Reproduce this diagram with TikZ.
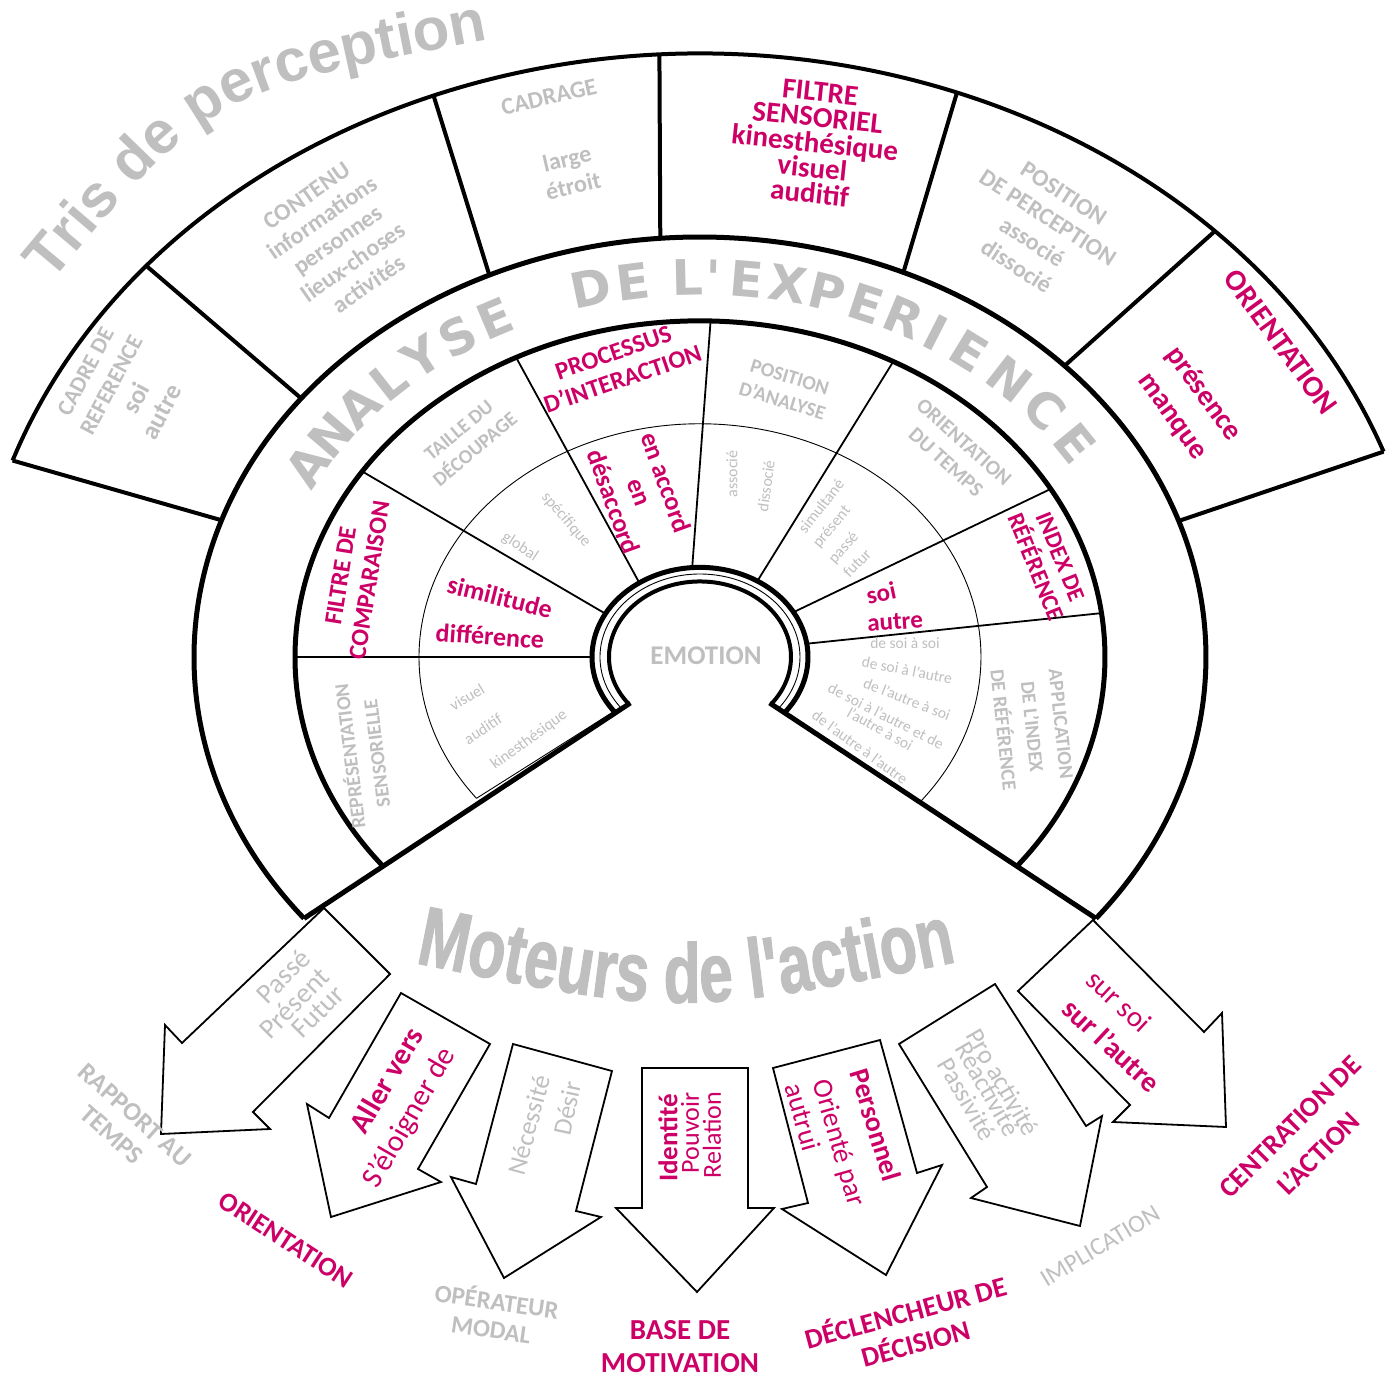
\documentclass[tikz,border=0pt]{standalone}
\usepackage{fontspec}
\setmainfont{Carlito}
\newfontfamily\trisfont{Liberation Sans}
\newfontfamily\ringfont{DejaVu Sans}
\newfontfamily\motfont{Liberation Sans}[FakeStretch=0.72, FakeBold=1.2]
\usetikzlibrary{decorations.text}
\definecolor{gr}{RGB}{191,191,191}
\definecolor{mg}{RGB}{204,0,102}
\tikzset{
  G/.style 2 args={text=gr, inner sep=0pt, align=center, font=\fontsize{#1}{#2}\selectfont},
  GB/.style 2 args={text=gr, inner sep=0pt, align=center, font=\fontsize{#1}{#2}\selectfont\bfseries},
  M/.style 2 args={text=mg, inner sep=0pt, align=center, font=\fontsize{#1}{#2}\selectfont},
  MB/.style 2 args={text=mg, inner sep=0pt, align=center, font=\fontsize{#1}{#2}\selectfont\bfseries},
  heavyline/.style={line width=5pt},
  boxline/.style={line width=4pt},
  divline/.style={line width=1.8pt},
  thinline/.style={line width=0.9pt},
  blockarrow/.style={draw, line width=1.8pt, fill=white, line join=miter},
  px/.style={shift={(-700,657)}, yscale=-1},
  el/.style={yscale=0.83},
}
\begin{document}
\begin{tikzpicture}[x=1pt,y=1pt]
\useasboundingbox (-700,-718) rectangle (689,657);
\fill[white] (-700,-718) rectangle (689,657);

% ---------------- rings and sectors ----------------
\begin{scope}[el]
  % Tris de perception ring
  \draw[boxline] (161.0:727) arc[start angle=161.0, end angle=19.9, radius=727];
  \foreach \a/\b in {161.0/161.0, 142/139.6, 114.6/111.5, 94.5/93.2, 66.3/69.3, 43.9/44.9, 18.9/19.9}
    \draw[boxline] (\a:506) -- (\b:727);
  % analyse ring and inner disc
  \draw[heavyline] (218.5:506) arc[start angle=218.5, end angle=-38.5, radius=506];
  \draw[heavyline] (218.5:405) arc[start angle=218.5, end angle=-38.5, radius=405];
  \draw[thinline] (217.3:281) arc[start angle=217.3, end angle=-38.5, radius=281];
  \draw[thinline] (217.3:100) -- (217.3:281);
  \foreach \a/\b in {180/180,151/146.5,124/117,94/88.5,58/61.5,30/30,8.5/7.5}
    \draw[divline] (\a:110) -- (\b:405);
  % emotion
  \draw[heavyline] (218.5:108) arc[start angle=218.5, end angle=-38.5, radius=108];
  \draw[thinline] (218.5:100) arc[start angle=218.5, end angle=-38.5, radius=100];
  \draw[line width=4pt] (218.5:91) arc[start angle=218.5, end angle=-38.5, radius=91];
  \draw[heavyline] (218.5:89) -- (218.5:506);
  \draw[heavyline] (-38.5:89) -- (-38.5:506);
\end{scope}

% ---------------- curved titles ----------------
\path[decorate, decoration={text along path, text align={center},
   text={|\trisfont\bfseries\fontsize{60}{60}\selectfont\color{gr}|Tris de perception}}]
   (-655,367) .. controls (-490,565) .. (-202,619);

\foreach \ch/\ang [count=\i] in {A/150,N/144.5,A/139,L/133.5,Y/128,S/122.5,E/117,D/104,E/98.5,L/91.5,{\textquotesingle}/88.3,E/84,X/78.8,P/73.6,E/68.4,R/63.2,I/58.5,E/53.5,N/46.8,C/40.4,E/34}
{
  \pgfmathsetmacro\rot{atan2(-0.83*cos(\ang),sin(\ang))}
  \node[text=gr, inner sep=0pt, anchor=base, rotate=\rot, font=\ringfont\bfseries\fontsize{49}{49}\selectfont] (rl\i) at (\ang:436 and 361.9) {\ch};
}

\path[decorate, decoration={text along path, text align={center},
   text={|\motfont\bfseries\fontsize{84}{84}\selectfont\color{gr}|Moteurs de l'action}}]
   (-300,-303) .. controls (-20,-360) .. (272,-302);

% ---------------- pixel scope ----------------
\begin{scope}[px]
  % block arrows
  \draw[blockarrow] (324,908) -- (390,974) -- (253,1112) -- (270,1129) -- (161,1134) -- (165,1025) -- (182,1043) -- cycle;
  \draw[blockarrow] (401,993) -- (490,1044) -- (418,1169) -- (441,1182) -- (331,1217) -- (307,1104) -- (329,1118) -- cycle;
  \draw[blockarrow] (513,1044) -- (612,1071) -- (576,1211) -- (601,1217) -- (504,1278) -- (451,1177) -- (476,1184) -- cycle;
  \draw[blockarrow] (642,1068) -- (748,1068) -- (748,1208) -- (774,1208) -- (697,1292) -- (616,1208) -- (642,1208) -- cycle;
  \draw[blockarrow] (773,1068) -- (880,1040) -- (917,1173) -- (942,1165) -- (886,1275) -- (782,1209) -- (808,1203) -- cycle;
  \draw[blockarrow] (899,1044) -- (995,984) -- (1086,1126) -- (1102,1116) -- (1080,1226) -- (971,1198) -- (987,1187) -- cycle;
  \draw[blockarrow] (1093,920) -- (1204,1032) -- (1222,1013) -- (1226,1127) -- (1113,1122) -- (1130,1105) -- (1018,991) -- cycle;

  % Tris boxes
  \node[GB={23}{29}, rotate=62] (cadre) at (124,392) {CADRE DE\\REFERENCE\\{\fontsize{26}{29}\selectfont soi}\\{\fontsize{26}{29}\selectfont autre}};
  \node[GB={24}{27}, rotate=35] (contenu) at (338,240) {CONTENU\\informations\\personnes\\lieux-choses\\activités};
  \node[GB={24}{27}, rotate=13] (cadrage) at (549,97) {CADRAGE};
  \node[GB={24}{28}, rotate=13] (cadrvals) at (570,172) {large\\étroit};
  \node[MB={29}{25.5}, rotate=-6] (filtre) at (815,143) {FILTRE\\SENSORIEL\\kinesthésique\\visuel\\auditif};
  \node[GB={24}{29}, rotate=-33] (posperc) at (1040,230) {POSITION\\DE PERCEPTION\\associé\\dissocié};
  \node[MB={30}{30}, rotate=-54] (orient) at (1281,342) {ORIENTATION};
  \node[MB={29}{38}, rotate=-54] (presence) at (1188,405) {présence\\manque};

  % sector labels
  \node[MB={25}{29}, rotate=81] (fcomp) at (355,578) {FILTRE DE\\COMPARAISON};
  \node[GB={20}{27}, rotate=97] (repr) at (362,755) {REPRÉSENTATION\\SENSORIELLE};
  \node[GB={20}{25}, rotate=40] (taille) at (467,440) {TAILLE DU\\DÉCOUPAGE};
  \node[MB={25}{28}, rotate=19] (proc) at (618,366) {PROCESSUS\\D’INTERACTION};
  \node[MB={26}{28}, rotate=-70] (accord) at (640,492) {en accord\\en\\désaccord};
  \node[GB={20}{25}, rotate=-17] (posana) at (786,389) {POSITION\\D’ANALYSE};
  \node[GB={21}{27}, rotate=-42] (otemps) at (955,452) {ORIENTATION\\DU TEMPS};
  \node[MB={24}{27}, rotate=-68] (index) at (1048,562) {INDEX DE\\RÉFÉRENCE};
  \node[GB={20}{29}, rotate=-84] (appli) at (1032,727) {APPLICATION\\DE L’INDEX\\DE RÉFÉRENCE};

  % inner band values
  \node[MB={26}{26}, rotate=-14] (simil) at (500,597) {similitude};
  \node[MB={26}{26}, rotate=-4] (diff) at (490,636) {différence};
  \node[G={16}{16}, rotate=-49] (spec) at (566,520) {spécifique};
  \node[G={16}{16}, rotate=-33] (glob) at (520,547) {global};
  \node[G={16}{16}, rotate=90] (assoc) at (732,474) {associé};
  \node[G={16}{16}, rotate=82] (dissoc) at (766,486) {dissocié};
  \node[G={16}{16}, rotate=52] (simul) at (821,506) {simultané};
  \node[G={16}{16}, rotate=50] (pres) at (832,527) {présent};
  \node[G={16}{16}, rotate=48] (passe) at (844,548) {passé};
  \node[G={16}{16}, rotate=46] (futur) at (857,563) {futur};
  \node[MB={25}{25}, rotate=12] (soi) at (881,593) {soi};
  \node[MB={25}{25}, rotate=4] (autre) at (895,622) {autre};
  \node[G={15.5}{15.5}, rotate=0] (ds1) at (905,643) {de soi à soi};
  \node[G={15.5}{15.5}, rotate=-11] (ds2) at (907,670) {de soi à l’autre};
  \node[G={15.5}{15.5}, rotate=-21] (ds3) at (907,699) {de l’autre à soi};
  \node[G={15.5}{15.5}, rotate=-27] (ds4) at (886,716) {de soi à l’autre et de};
  \node[G={15.5}{15.5}, rotate=-29] (ds5) at (880,729) {l’autre à soi};
  \node[G={15.5}{15.5}, rotate=-36] (ds6) at (860,747) {de l’autre à l’autre};
  \node[G={16}{16}, rotate=31] (vis) at (467,697) {visuel};
  \node[G={16}{16}, rotate=33] (aud) at (483,729) {auditif};
  \node[G={16}{16}, rotate=36] (kin) at (529,740) {kinesthésique};
  \node[GB={27}{27}] (emotion) at (706,656) {EMOTION};

  % arrow texts
  \node[G={28}{28}, rotate=45] (passe2) at (283,976) {Passé};
  \node[G={28}{28}, rotate=45] (present2) at (294,1003) {Présent};
  \node[G={28}{28}, rotate=45] (futur2) at (318,1012) {Futur};
  \node[MB={30}{30}, rotate=60] (aller) at (386,1080) {Aller vers};
  \node[M={30}{30}, rotate=60] (eloign) at (410,1118) {S’éloigner de};
  \node[G={26}{26}, rotate=75] (necess) at (529,1125) {Nécessité};
  \node[G={26}{26}, rotate=78] (desir) at (567,1108) {Désir};
  \node[MB={27}{27}, rotate=90] (ident) at (668,1138) {Identité};
  \node[M={26}{26}, rotate=90] (pouv) at (690,1133) {Pouvoir};
  \node[M={26}{26}, rotate=90] (relat) at (712,1135) {Relation};
  \node[MB={28}{28}, rotate=-73] (perso) at (876,1125) {Personnel};
  \node[M={28}{28}, rotate=-74] (orpar) at (838,1143) {Orienté par};
  \node[M={28}{28}, rotate=-74] (autrui) at (803,1117) {autrui};
  \node[G={26}{26}, rotate=-60] (proact) at (1003,1082) {Pro activité};
  \node[G={26}{26}, rotate=-60] (react) at (988,1089) {Réactivité};
  \node[G={26}{26}, rotate=-60] (passiv) at (967,1099) {Passivité};
  \node[M={29}{29}, rotate=-43] (sursoi) at (1119,1001) {sur soi};
  \node[MB={29}{29}, rotate=-43] (surautre) at (1112,1045) {sur l’autre};

  % arrow labels
  \node[GB={26}{26}, rotate=-42] (rapport) at (135,1115) {RAPPORT AU};
  \node[GB={26}{26}, rotate=-42] (temps) at (112,1135) {TEMPS};
  \node[MB={27}{27}, rotate=-33] (orient2) at (286,1240) {ORIENTATION};
  \node[GB={25}{25}, rotate=-8] (operat) at (497,1300) {OPÉRATEUR};
  \node[GB={25}{25}, rotate=-8] (modal) at (491,1330) {MODAL};
  \node[MB={29}{29}] (base) at (680,1330) {BASE DE};
  \node[MB={29}{29}] (motiv) at (680,1363) {MOTIVATION};
  \node[MB={28}{28}, rotate=15] (declen) at (905,1311) {DÉCLENCHEUR DE};
  \node[MB={28}{28}, rotate=15] (decis) at (915,1342) {DÉCISION};
  \node[G={25}{25}, rotate=31] (implic) at (1100,1246) {IMPLICATION};
  \node[MB={28}{28}, rotate=45] (centr) at (1290,1127) {CENTRATION DE};
  \node[MB={28}{28}, rotate=45] (lact) at (1318,1153) {L’ACTION};
\end{scope}
\end{tikzpicture}
\end{document}
